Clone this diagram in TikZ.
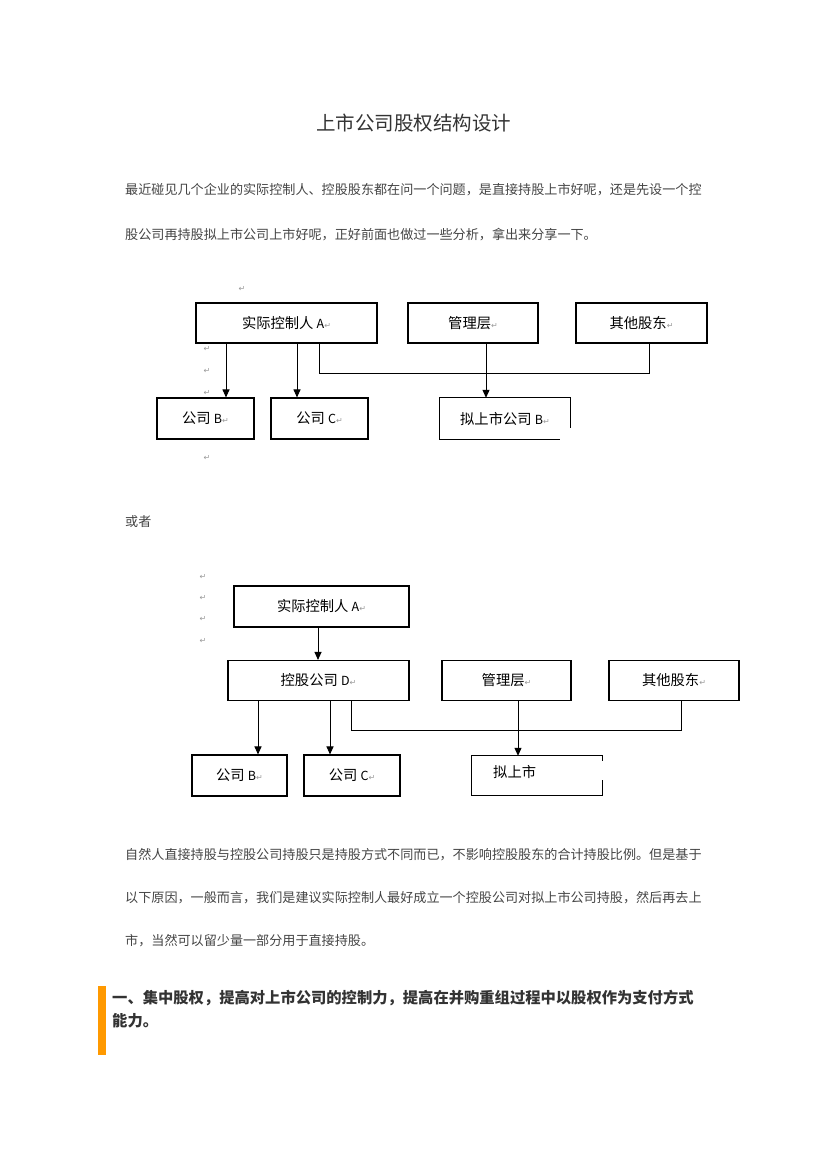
\documentclass[tikz,border=0pt]{standalone}
\usepackage{fontspec}
\setmainfont{Noto Sans CJK SC}
\newfontfamily\symfont{DejaVu Sans}
\usetikzlibrary{arrows.meta}
\definecolor{bodytext}{HTML}{444444}
\definecolor{titletext}{HTML}{333333}
\definecolor{markgray}{HTML}{999999}
\definecolor{barorange}{HTML}{FF9900}
\newcommand{\pmark}{{\symfont\fontsize{8}{8}\selectfont\color{markgray}↵}}
\newcommand{\lat}[1]{{\fontsize{12.5}{12.5}\selectfont #1}}
\tikzset{
  box/.style={draw, line width=1.1pt, inner sep=0pt, font=\fontsize{14.3}{16}\selectfont},
  openbox/.style={inner sep=0pt, font=\fontsize{14.3}{16}\selectfont},
  link/.style={line width=1pt},
  arr/.style={line width=1pt, -{Triangle[width=7pt,length=8pt]}},
  body/.style={anchor=west, inner sep=0pt, text=bodytext, font=\fontsize{13.1}{15}\selectfont},
  head/.style={anchor=west, inner sep=0pt, text=titletext, font=\fontsize{15.3}{17}\selectfont\bfseries},
  pm/.style={inner sep=0pt}
}
\begin{document}
\begin{tikzpicture}[x=1pt,y=-1pt]
\useasboundingbox (0,0) rectangle (827,1169);
% title
\node[inner sep=0pt, text=titletext, font=\fontsize{19.5}{21}\selectfont] (title) at (413.5,123) {上市公司股权结构设计};
% intro
\node[body] (l1) at (125,190) {最近碰见几个企业的实际控制人、控股股东都在问一个问题，是直接持股上市好呢，还是先设一个控};
\node[body] (l2) at (125,235) {股公司再持股拟上市公司上市好呢，正好前面也做过一些分析，拿出来分享一下。};

% ---------- diagram 1 ----------
\node[pm] (m0) at (242,289) {\pmark};
\node[pm] (m1) at (207,349) {\pmark};
\node[pm] (m2) at (207,371) {\pmark};
\node[pm] (m3) at (207,393) {\pmark};
\node[pm] (m4) at (207,458) {\pmark};
\node[box, minimum width=181pt, minimum height=40pt] (A1) at (286.5,323) {实际控制人 \lat{A}\pmark};
\node[box, minimum width=130pt, minimum height=40pt] (M1) at (473,323) {管理层\pmark};
\node[box, minimum width=131pt, minimum height=40pt] (O1) at (641.5,323) {其他股东\pmark};
\node[box, minimum width=97pt, minimum height=41pt] (B1) at (205.5,418.5) {公司 \lat{B}\pmark};
\node[box, minimum width=97pt, minimum height=41pt] (C1) at (319.5,418.5) {公司 \lat{C}\pmark};
\node[openbox, minimum width=130pt, minimum height=41pt] (P1) at (505,418.5) {拟上市公司 \lat{B}\pmark};
\draw[line width=1.1pt] (P1.north east) ++(0,30) -- (P1.north east) -- (P1.north west) -- (P1.south west) -- ++(120,0);
\draw[arr] (A1.south -| 226,0) -- (B1.north -| 226,0);
\draw[arr] (A1.south -| 297,0) -- (C1.north -| 297,0);
\coordinate (j1) at (319,373);
\coordinate (k1) at (649,373);
\draw[link] (A1.south -| j1) -- (j1) -- (k1) -- (O1.south -| k1);
\draw[arr] (M1.south -| 486,0) -- (P1.north -| 486,0);

% or
\node[body] (or) at (125,522) {或者};

% ---------- diagram 2 ----------
\node[pm] (n1) at (203,577) {\pmark};
\node[pm] (n2) at (203,598) {\pmark};
\node[pm] (n3) at (203,619) {\pmark};
\node[pm] (n4) at (203,641) {\pmark};
\node[box, minimum width=175pt, minimum height=41pt] (A2) at (321.5,606.5) {实际控制人 \lat{A}\pmark};
\node[box, minimum width=181pt, minimum height=40pt] (D2) at (318.5,680.5) {控股公司 \lat{D}\pmark};
\node[box, minimum width=129pt, minimum height=40pt] (M2) at (506.5,680.5) {管理层\pmark};
\node[box, minimum width=130pt, minimum height=40pt] (O2) at (674,680.5) {其他股东\pmark};
\node[box, minimum width=95pt, minimum height=41pt] (B2) at (239.5,775.5) {公司 \lat{B}\pmark};
\node[box, minimum width=96pt, minimum height=41pt] (C2) at (352,775.5) {公司 \lat{C}\pmark};
\node[openbox, minimum width=130pt, minimum height=39pt] (P2) at (537,775.5) {};
\node[inner sep=0pt, anchor=west, font=\fontsize{14.3}{16}\selectfont] (P2t) at (493,772) {拟上市};
\draw[line width=1.1pt] (P2.north east) ++(0,5) -- (P2.north east) -- (P2.north west) -- (P2.south west) -- (P2.south east) -- ++(0,-15);
\draw[arr] (A2.south -| 318,0) -- (D2.north -| 318,0);
\draw[arr] (D2.south -| 258,0) -- (B2.north -| 258,0);
\draw[arr] (D2.south -| 330,0) -- (C2.north -| 330,0);
\coordinate (j2) at (351,730);
\coordinate (k2) at (681,730);
\draw[link] (D2.south -| j2) -- (j2) -- (k2) -- (O2.south -| k2);
\draw[arr] (M2.south -| 518,0) -- (P2.north -| 518,0);

% paragraph 2
\node[body] (p1) at (125,855) {自然人直接持股与控股公司持股只是持股方式不同而已，不影响控股股东的合计持股比例。但是基于};
\node[body] (p2) at (125,898) {以下原因，一般而言，我们是建议实际控制人最好成立一个控股公司对拟上市公司持股，然后再去上};
\node[body] (p3) at (125,941) {市，当然可以留少量一部分用于直接持股。};

% heading
\fill[barorange] (98,986) rectangle (106,1055);
\node[head] (h1) at (112,998) {一、集中股权，提高对上市公司的控制力，提高在并购重组过程中以股权作为支付方式};
\node[head] (h2) at (112,1021) {能力。};
\end{tikzpicture}
\end{document}
